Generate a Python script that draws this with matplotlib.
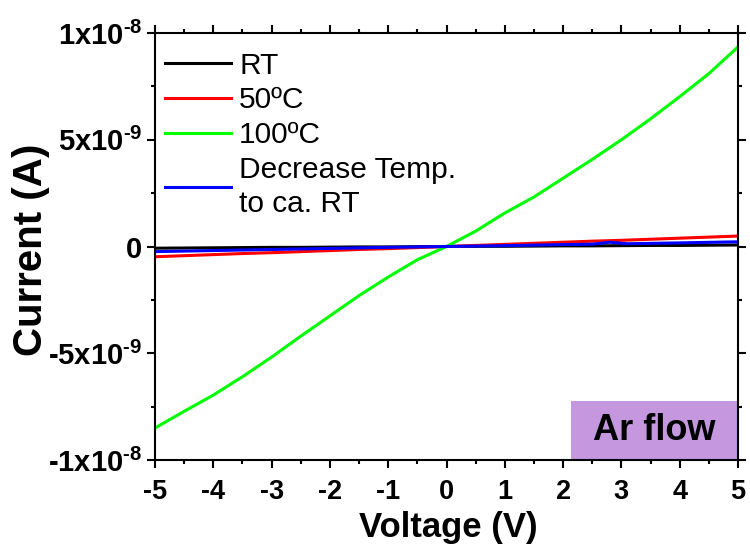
import matplotlib
matplotlib.use("Agg")
import matplotlib.pyplot as plt
from matplotlib.patches import Rectangle
from matplotlib.ticker import MultipleLocator

plt.rcParams['font.family'] = ['Liberation Sans', 'DejaVu Sans']
plt.rcParams['mathtext.fontset'] = 'custom'
plt.rcParams['mathtext.rm'] = 'Liberation Sans:bold'
plt.rcParams['mathtext.bf'] = 'Liberation Sans:bold'
plt.rcParams['mathtext.default'] = 'bf'
plt.rcParams['axes.unicode_minus'] = False

# voltaje (V) y corriente (en unidades de 1e-8 A)
volt = [-5, -4.5, -4, -3.5, -3, -2.5, -2, -1.5, -1, -0.5, 0,
        0.5, 1, 1.5, 2, 2.5, 3, 3.5, 4, 4.5, 5]
i_rt = [-0.008, -0.007, -0.006, -0.005, -0.004, -0.004, -0.003, -0.002, -0.002, -0.001, 0.0,
        0.001, 0.001, 0.002, 0.003, 0.003, 0.004, 0.005, 0.005, 0.006, 0.007]
i_50 = [-0.048, -0.043, -0.038, -0.033, -0.029, -0.024, -0.019, -0.014, -0.010, -0.005, 0.0,
        0.005, 0.010, 0.015, 0.020, 0.025, 0.029, 0.034, 0.039, 0.044, 0.049]
i_100 = [-0.85, -0.772, -0.696, -0.61, -0.518, -0.42, -0.325, -0.23, -0.143, -0.062, 0.0,
         0.072, 0.157, 0.232, 0.32, 0.408, 0.50, 0.598, 0.702, 0.81, 0.935]
volt_dec = [-5, -4, -3, -2, -1, 0, 1, 2, 2.5, 2.8, 3.1, 4, 5]
i_dec = [-0.024, -0.019, -0.014, -0.009, -0.004, 0.0, 0.004, 0.009, 0.011, 0.02, 0.013, 0.017, 0.022]

series = [
    (volt, i_rt, 'black', 'RT'),
    (volt, i_50, '#ff0000', '50ºC'),
    (volt, i_100, '#00ff00', '100ºC'),
    (volt_dec, i_dec, '#0000ff', 'Decrease Temp.\nto ca. RT'),
]

yticks = [-1e-8, -5e-9, 0, 5e-9, 1e-8]
ytick_labels = ['$\u20101x10^{\u20108}$', '$\u20105x10^{\u20109}$', '0',
                '$5x10^{\u20109}$', '$1x10^{\u20108}$']

fig = plt.figure(figsize=(7.5, 5.45), dpi=100)
ax = fig.add_axes([0.2067, 0.156, 0.7773, 0.7834])

for xs, ys, col, lab in series:
    ax.plot(xs, [v * 1e-8 for v in ys], color=col, lw=2.2, label=lab)

ax.set_xlim(-5, 5)
ax.set_ylim(-1e-8, 1e-8)
ax.xaxis.set_major_locator(MultipleLocator(1))
ax.xaxis.set_minor_locator(MultipleLocator(0.5))
ax.set_yticks(yticks)
ax.set_yticklabels(ytick_labels)
ax.yaxis.set_minor_locator(MultipleLocator(2.5e-9))
ax.tick_params(which='both', direction='out', top=True, right=True, width=1.5)
ax.tick_params(which='major', length=6)
ax.tick_params(which='minor', length=3)
ax.tick_params(axis='y', pad=3, labelsize=21)
ax.tick_params(axis='x', pad=8, labelsize=19.5)
for lbl in ax.get_xticklabels() + ax.get_yticklabels():
    lbl.set_fontweight('bold')
for s in ax.spines.values():
    s.set_linewidth(1.5)

ax.set_xlabel('Voltage (V)', fontsize=25, fontweight='bold')
ax.set_ylabel('Current (A)', fontsize=29, fontweight='bold')
ax.xaxis.set_label_coords(0.503, -0.119)
ax.yaxis.set_label_coords(-0.18, 0.492)

leg = ax.legend(loc='upper left', bbox_to_anchor=(0, 0.981), frameon=False,
                fontsize=21.5, handlelength=2.2, handletextpad=0.27,
                labelspacing=0.23, borderaxespad=0.15, borderpad=0.2)
for t in leg.get_texts():
    t.set_linespacing(1.25)

# recuadro "Ar flow"
ax.add_patch(Rectangle((0.7136, 0.0), 0.2864, 0.138, transform=ax.transAxes,
                       facecolor='#c497de', edgecolor='none', zorder=1))
ax.text(0.856, 0.069, 'Ar flow', transform=ax.transAxes, ha='center', va='center',
        fontsize=26, fontweight='bold', zorder=2)

fig.savefig('out.png', dpi=100)
